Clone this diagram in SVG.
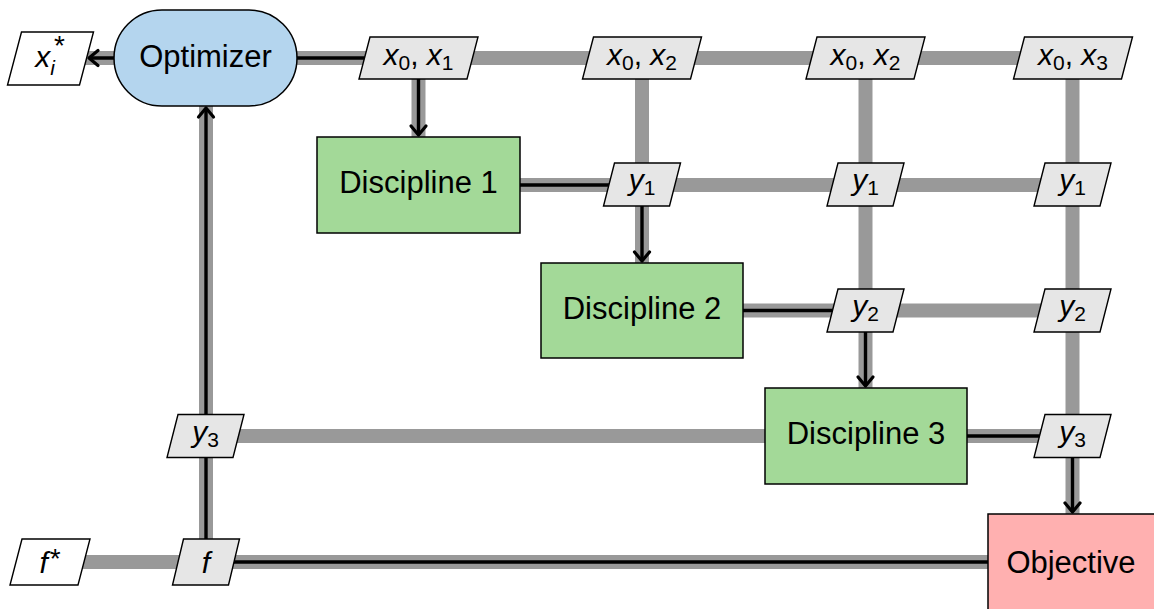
<svg xmlns="http://www.w3.org/2000/svg" width="1154" height="609" viewBox="0 0 1154 609">
<style>
.gray{stroke:#999999;stroke-width:14;fill:none;stroke-linecap:butt}
.blk{stroke:#000000;stroke-width:3.4;fill:none;stroke-linecap:butt}
.node{stroke:#000000;stroke-width:1.5}
.func{fill:#a3d998}
.opt{fill:#b4d5ee}
.obj{fill:#ffb0b0}
.data{fill:#e6e6e6;stroke:#000000;stroke-width:1.4}
.io{fill:#ffffff;stroke:#000000;stroke-width:1.4}
.lbl{font-family:"Liberation Sans",Arial,sans-serif;font-size:31px;fill:#000;text-anchor:middle}
.math{font-family:"Liberation Sans",Arial,sans-serif;font-size:30px;font-style:italic;fill:#000;text-anchor:middle}
.sub{font-style:normal;font-size:21px}
.star{font-style:normal;font-size:28px}
</style>
<defs>
<marker id="arr" markerUnits="userSpaceOnUse" markerWidth="30" markerHeight="30" viewBox="-15 -15 30 30" refX="0" refY="0" orient="auto" overflow="visible">
<path d="M-9,-7.5 L0,0 L-9,7.5" fill="none" stroke="#000" stroke-width="3.2" stroke-linejoin="round" stroke-linecap="round"/>
</marker>
</defs>
<g id="connectors">
<line class="gray" x1="50" y1="58" x2="1072.5" y2="58"/>
<line class="gray" x1="418.5" y1="58" x2="418.5" y2="137"/>
<line class="gray" x1="642" y1="58" x2="642" y2="263"/>
<line class="gray" x1="865.5" y1="58" x2="865.5" y2="388"/>
<line class="gray" x1="1072.5" y1="58" x2="1072.5" y2="514"/>
<line class="gray" x1="418.5" y1="185" x2="1072.5" y2="185"/>
<line class="gray" x1="642" y1="310.5" x2="1072.5" y2="310.5"/>
<line class="gray" x1="206" y1="436" x2="1072.5" y2="436"/>
<line class="gray" x1="50" y1="562" x2="1071" y2="562"/>
<line class="gray" x1="206" y1="58" x2="206" y2="562"/>
<line class="blk" x1="205" y1="58" x2="418.5" y2="58"/>
<line class="blk" x1="418.5" y1="58" x2="418.5" y2="135" marker-end="url(#arr)"/>
<line class="blk" x1="160" y1="58" x2="89" y2="58" marker-end="url(#arr)"/>
<line class="blk" x1="418.5" y1="185" x2="642" y2="185"/>
<line class="blk" x1="642" y1="185" x2="642" y2="261" marker-end="url(#arr)"/>
<line class="blk" x1="642" y1="310.5" x2="865.5" y2="310.5"/>
<line class="blk" x1="865.5" y1="310.5" x2="865.5" y2="386" marker-end="url(#arr)"/>
<line class="blk" x1="865.5" y1="436" x2="1072.5" y2="436"/>
<line class="blk" x1="1072.5" y1="436" x2="1072.5" y2="512" marker-end="url(#arr)"/>
<line class="blk" x1="1071" y1="562" x2="206" y2="562"/>
<line class="blk" x1="206" y1="562" x2="206" y2="108" marker-end="url(#arr)"/>
</g>
<g id="optimizer">
<rect class="node opt" x="114" y="10" width="183" height="96" rx="48" ry="48"/>
<text class="lbl" x="205.5" y="67">Optimizer</text>
</g>
<g id="discipline1">
<rect class="node func" x="317" y="137" width="203" height="96"/>
<text class="lbl" x="418.5" y="193">Discipline 1</text>
</g>
<g id="discipline2">
<rect class="node func" x="541" y="263" width="202" height="95"/>
<text class="lbl" x="642" y="318.5">Discipline 2</text>
</g>
<g id="discipline3">
<rect class="node func" x="765" y="388" width="202" height="96"/>
<text class="lbl" x="866" y="444">Discipline 3</text>
</g>
<g id="objective">
<rect class="node obj" x="988" y="514" width="170" height="100"/>
<text class="lbl" x="1071" y="573">Objective</text>
</g>
<g id="out_x">
<polygon class="io" points="21.5,32 93.5,32 79.5,85 7.5,85"/>
<text class="math" x="50" y="67">x<tspan font-size="21" dy="8">i</tspan><tspan class="star" dx="-1" dy="-20">*</tspan></text>
</g>
<g id="in_x01">
<polygon class="data" points="370,37 478,37 467,79 359,79"/>
<text class="math" x="418.5" y="65">x<tspan class="sub" dy="5">0</tspan><tspan font-style="normal" dy="-5">, </tspan>x<tspan class="sub" dy="5">1</tspan></text>
</g>
<g id="in_x02a">
<polygon class="data" points="593.5,37 701.5,37 690.5,79 582.5,79"/>
<text class="math" x="642" y="65">x<tspan class="sub" dy="5">0</tspan><tspan font-style="normal" dy="-5">, </tspan>x<tspan class="sub" dy="5">2</tspan></text>
</g>
<g id="in_x02b">
<polygon class="data" points="817,37 925,37 914,79 806,79"/>
<text class="math" x="865.5" y="65">x<tspan class="sub" dy="5">0</tspan><tspan font-style="normal" dy="-5">, </tspan>x<tspan class="sub" dy="5">2</tspan></text>
</g>
<g id="in_x03">
<polygon class="data" points="1024.5,37 1132.5,37 1121.5,79 1013.5,79"/>
<text class="math" x="1073" y="65">x<tspan class="sub" dy="5">0</tspan><tspan font-style="normal" dy="-5">, </tspan>x<tspan class="sub" dy="5">3</tspan></text>
</g>
<g id="y1_d2">
<polygon class="data" points="614.5,163 680.5,163 669.5,206 603.5,206"/>
<text class="math" x="642" y="190">y<tspan class="sub" dy="5">1</tspan></text>
</g>
<g id="y1_d3">
<polygon class="data" points="838,163 904,163 893,206 827,206"/>
<text class="math" x="865.5" y="190">y<tspan class="sub" dy="5">1</tspan></text>
</g>
<g id="y1_obj">
<polygon class="data" points="1045,163 1111,163 1100,206 1034,206"/>
<text class="math" x="1072.5" y="190">y<tspan class="sub" dy="5">1</tspan></text>
</g>
<g id="y2_d3">
<polygon class="data" points="838,289 904,289 893,332 827,332"/>
<text class="math" x="865.5" y="316">y<tspan class="sub" dy="5">2</tspan></text>
</g>
<g id="y2_obj">
<polygon class="data" points="1045,289 1111,289 1100,332 1034,332"/>
<text class="math" x="1072.5" y="316">y<tspan class="sub" dy="5">2</tspan></text>
</g>
<g id="y3_obj">
<polygon class="data" points="1045,414.5 1111,414.5 1100,457.5 1034,457.5"/>
<text class="math" x="1072.5" y="441.5">y<tspan class="sub" dy="5">3</tspan></text>
</g>
<g id="y3_opt">
<polygon class="data" points="178,414.5 244,414.5 233,457.5 167,457.5"/>
<text class="math" x="205.5" y="441.5">y<tspan class="sub" dy="5">3</tspan></text>
</g>
<g id="out_f">
<polygon class="io" points="22,539 90,539 78,585 10,585"/>
<text class="math" x="50" y="573">f<tspan class="star" dx="2" dy="-5">*</tspan></text>
</g>
<g id="f_opt">
<polygon class="data" points="183.5,539 239.5,539 228.5,585 172.5,585"/>
<text class="math" x="206" y="573">f</text>
</g>
</svg>
